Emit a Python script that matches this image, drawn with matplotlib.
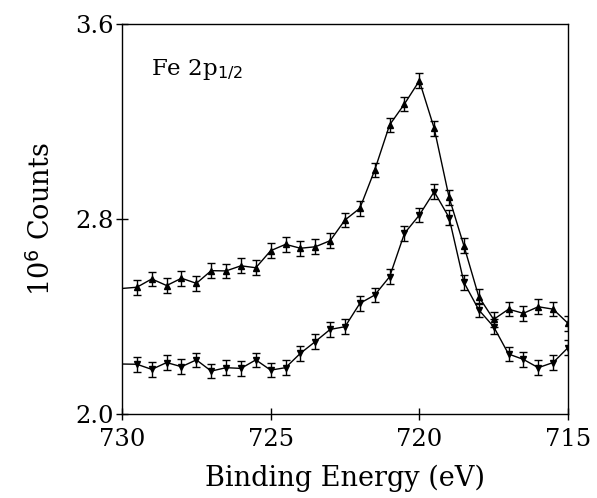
import numpy as np
import matplotlib
matplotlib.use('Agg')
import matplotlib.pyplot as plt

# binding energy grid (eV), 0.5 eV steps from 730 down to 715
energy = np.arange(730.0, 714.9, -0.5)

# upper curve (triangles up), 10^6 counts
upper = [2.515, 2.520, 2.554, 2.527, 2.557, 2.536, 2.588, 2.587, 2.608, 2.600, 2.670,
         2.696, 2.680, 2.686, 2.711, 2.796, 2.844, 3.001, 3.186, 3.272, 3.367, 3.172,
         2.889, 2.690, 2.481, 2.388, 2.430, 2.413, 2.440, 2.430, 2.372]
# lower curve (triangles down)
lower = [2.205, 2.204, 2.183, 2.211, 2.194, 2.222, 2.176, 2.190, 2.187, 2.222, 2.180,
         2.190, 2.249, 2.297, 2.347, 2.358, 2.454, 2.488, 2.563, 2.741, 2.816, 2.912,
         2.806, 2.540, 2.427, 2.358, 2.246, 2.224, 2.190, 2.211, 2.272]
err = 0.03

plt.rcParams['font.family'] = ['DejaVu Serif']
fig = plt.figure(figsize=(5.97, 4.98), dpi=100)
ax = fig.add_axes([0.2044, 0.1687, 0.747, 0.7831])

for y, m in [(upper, '^'), (lower, 'v')]:
    ax.errorbar(energy, y, yerr=err, fmt='-', color='black', lw=1.0,
                marker=m, ms=5, markevery=(1, 1), errorevery=(1, 1),
                capsize=3.2, elinewidth=1.0, capthick=1.0)

ax.set_xlim(730, 715)
ax.set_ylim(2.0, 3.6)
ax.set_xticks([730, 725, 720, 715])
ax.set_yticks([2.0, 2.8, 3.6])
ax.set_yticklabels(['2.0', '2.8', '3.6'])
ax.tick_params(direction='inout', length=8, width=1, labelsize=17.5)
ax.tick_params(axis='x', pad=6)
ax.tick_params(axis='y', pad=2)
for s in ax.spines.values():
    s.set_linewidth(1.0)

ax.set_xlabel('Binding Energy (eV)', fontsize=19.5, labelpad=10)
ax.set_ylabel('10$^6$ Counts', fontsize=19.5, labelpad=14)
ax.text(0.065, 0.87, 'Fe 2p$_{1/2}$', transform=ax.transAxes, fontsize=16.5)

fig.savefig('out.png', dpi=100)
